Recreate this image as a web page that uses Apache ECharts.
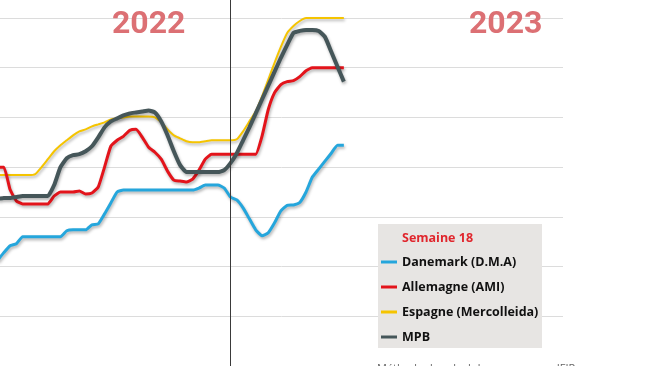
<!DOCTYPE html>
<html>
<head>
<meta charset="utf-8">
<script src="https://cdn.jsdelivr.net/npm/echarts@6/dist/echarts.min.js"></script>
<style>
html,body{margin:0;padding:0;background:#fff;}
#chart{width:650px;height:366px;}
</style>
</head>
<body>
<div id="chart"></div>
<script>
// Week index: 2022 week n -> n, 2023 week n -> 52 + n
const weeks = [15,16,17,18,19,20,21,22,23,24,25,26,27,28,29,30,31,32,33,34,35,36,37,38,39,40,41,42,43,44,45,46,47,48,49,50,51,52,
  53,54,55,56,57,58,59,60,61,62,63,64,65,66,67,68,69,70];

const danemark = [1.224,1.256,1.284,1.292,1.32,1.32,1.32,1.32,1.32,1.32,1.32,1.344,1.348,1.348,1.348,1.368,1.372,1.412,1.456,1.50,
  1.508,1.508,1.508,1.508,1.508,1.508,1.508,1.508,1.508,1.508,1.508,1.508,1.516,1.528,1.528,1.528,1.516,1.48,
  1.468,1.436,1.392,1.348,1.324,1.336,1.376,1.424,1.446,1.448,1.458,1.50,1.56,1.592,1.624,1.656,1.688,1.688];

const allemagne = [1.60,1.60,1.51,1.464,1.452,1.452,1.452,1.452,1.452,1.484,1.50,1.50,1.50,1.504,1.492,1.496,1.52,1.60,1.684,1.708,
  1.724,1.748,1.752,1.72,1.68,1.66,1.632,1.584,1.548,1.544,1.54,1.552,1.588,1.632,1.652,1.652,1.652,1.652,
  1.652,1.652,1.652,1.652,1.724,1.832,1.90,1.932,1.944,1.948,1.964,1.988,2.00,2.00,2.00,2.00,2.00,2.00];

const espagne = [1.568,1.568,1.568,1.568,1.568,1.568,1.572,1.60,1.632,1.664,1.688,1.708,1.728,1.744,1.752,1.764,1.772,1.78,1.792,1.796,
  1.80,1.804,1.804,1.804,1.804,1.80,1.78,1.752,1.728,1.716,1.704,1.70,1.70,1.704,1.708,1.708,1.708,1.708,
  1.712,1.744,1.784,1.824,1.884,1.952,2.02,2.084,2.14,2.168,2.188,2.20,2.20,2.20,2.20,2.20,2.20,2.20];

const mpb = [1.472,1.476,1.476,1.48,1.484,1.484,1.484,1.484,1.484,1.528,1.60,1.636,1.648,1.652,1.664,1.684,1.72,1.76,1.784,1.796,
  1.808,1.816,1.82,1.824,1.828,1.82,1.784,1.728,1.664,1.608,1.58,1.58,1.58,1.58,1.58,1.58,1.588,1.616,
  1.656,1.708,1.76,1.816,1.872,1.928,1.984,2.04,2.092,2.14,2.148,2.152,2.152,2.148,2.124,2.064,2.004,1.944];

const seriesNames = ['Danemark (D.M.A)','Allemagne (AMI)','Espagne (Mercolleida)','MPB'];
const yearLabels = ['2022','2023'];
const yearBoundaryWeek = 52;
const legendTitle = 'Semaine 18';
const footnote = 'Méthode de calcul des moyennes : IFIP';

function pairs(arr){ return arr.map((v,i)=>[weeks[i], v]); }

const chart = echarts.init(document.getElementById('chart'), null, {renderer:'canvas'});
const shadow = {shadowColor:'rgba(0,0,0,0.30)', shadowBlur:3, shadowOffsetX:1, shadowOffsetY:2};

const yearStyle = {
  fontFamily:'Roboto', fontWeight:'bold', fontSize:32, fill:'#dc7074',
  shadowColor:'rgba(0,0,0,0.4)', shadowBlur:2, shadowOffsetX:1, shadowOffsetY:2
};

chart.setOption({
  animation:false,
  backgroundColor:'#ffffff',
  grid:{left:0, right:87, top:0, bottom:0},
  xAxis:{type:'value', min:15.4, max:104.8, show:true,
    axisLine:{show:false}, axisTick:{show:false}, axisLabel:{show:false}, splitLine:{show:false}},
  yAxis:{type:'value', min:0.8, max:2.2724, interval:0.2,
    axisLine:{show:false}, axisTick:{show:false}, axisLabel:{show:false},
    splitLine:{show:true, showMinLine:false, showMaxLine:false, lineStyle:{color:'#dcdcdc', width:1}}},
  legend:{
    orient:'vertical', left:381, top:254, z:10, padding:0,
    itemWidth:16, itemHeight:3, itemGap:9, icon:'rect',
    textStyle:{fontFamily:'Open Sans', fontWeight:'bold', fontSize:12.5, color:'#111', lineHeight:16},
    data:seriesNames
  },
  title:{text:legendTitle, left:397, top:227, z:10,
    textStyle:{fontFamily:'Open Sans', fontWeight:'bold', fontSize:12.5, color:'#e0262d'}},
  graphic:[
    {type:'rect', left:378, top:224, z:1, shape:{width:164, height:124}, style:{fill:'#e7e5e3'}},
    {type:'text', left:112, top:9, z:5, style:Object.assign({text:yearLabels[0]}, yearStyle)},
    {type:'text', left:469, top:9, z:5, style:Object.assign({text:yearLabels[1]}, yearStyle)},
    {type:'text', left:377, top:363, z:5, style:{text:footnote, fontFamily:'Open Sans', fontSize:11, fill:'#666'}}
  ],
  series:[
    {name:seriesNames[0], type:'line', data:pairs(danemark), showSymbol:false, smooth:0.15,
      color:'#25a6dc', lineStyle:Object.assign({width:3, color:'#25a6dc'}, shadow), z:3,
      markLine:{silent:true, symbol:'none', label:{show:false},
        lineStyle:{color:'#3a3a3a', width:1, type:'solid'}, data:[{xAxis:yearBoundaryWeek}]}},
    {name:seriesNames[1], type:'line', data:pairs(allemagne), showSymbol:false, smooth:0.15,
      color:'#e3141b', lineStyle:Object.assign({width:3, color:'#e3141b'}, shadow), z:3},
    {name:seriesNames[2], type:'line', data:pairs(espagne), showSymbol:false, smooth:0.15,
      color:'#f5c400', lineStyle:Object.assign({width:2, color:'#f5c400'}, shadow), z:2},
    {name:seriesNames[3], type:'line', data:pairs(mpb), showSymbol:false, smooth:0.15,
      color:'#455659', lineStyle:Object.assign({width:4, color:'#455659'}, shadow), z:4}
  ]
});
</script>
</body>
</html>
